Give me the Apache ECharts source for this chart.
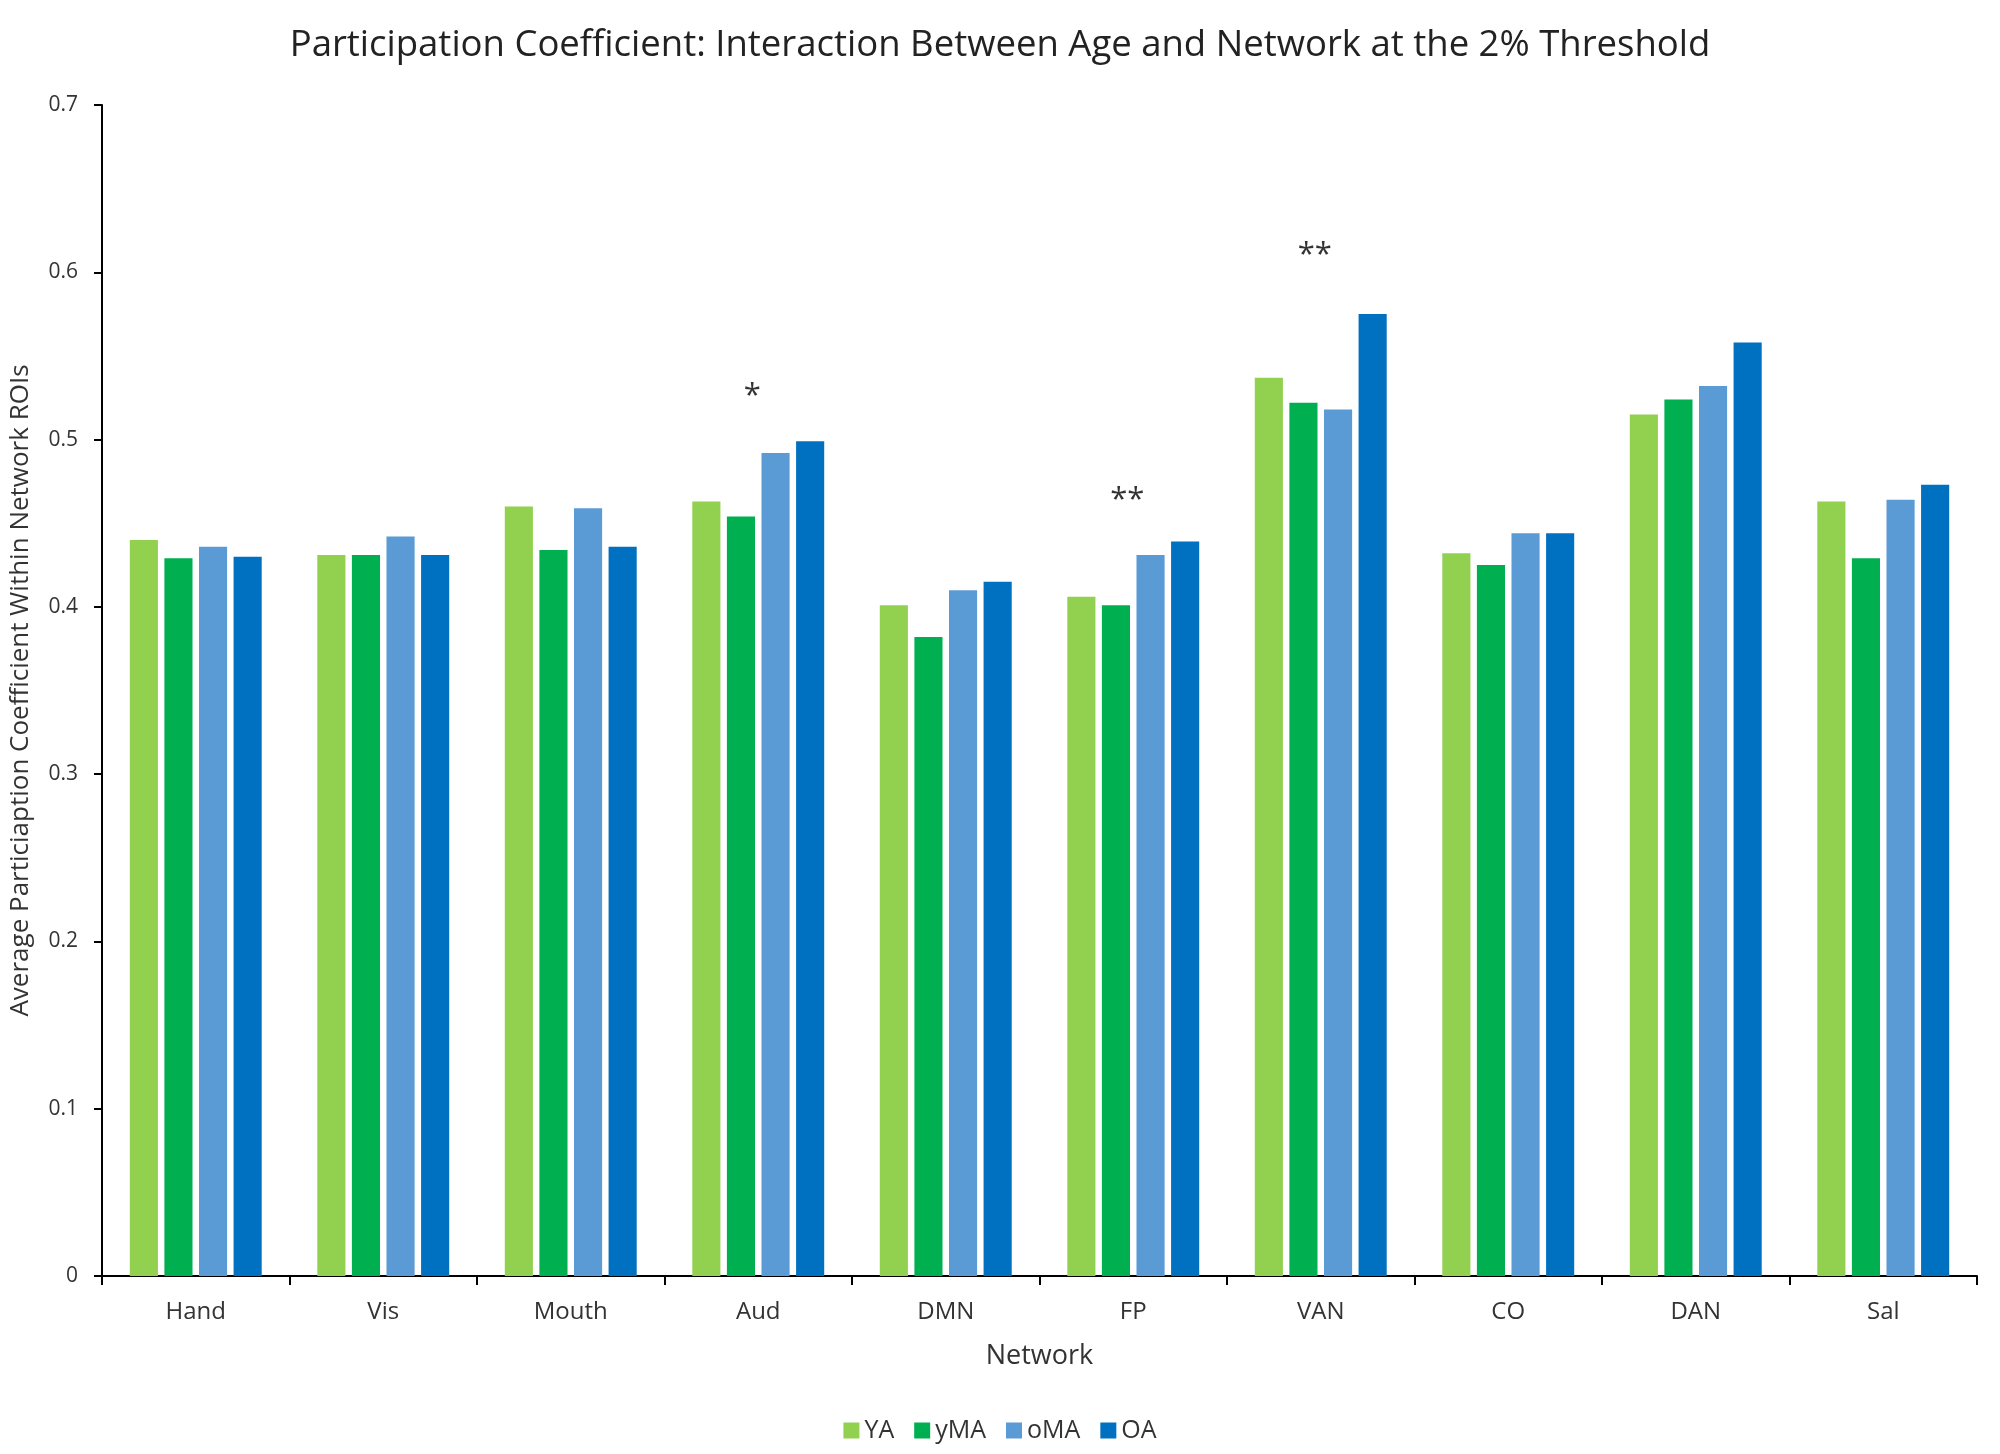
<!DOCTYPE html>
<html>
<head>
<meta charset="utf-8">
<script src="https://cdn.jsdelivr.net/npm/echarts@6/dist/echarts.min.js"></script>
<style>html,body{margin:0;padding:0;background:#fff}#c{width:2000px;height:1454px}</style>
</head>
<body>
<div id="c"></div>
<script>
const categories = ['Hand','Vis','Mouth','Aud','DMN','FP','VAN','CO','DAN','Sal'];
const seriesNames = ['YA','yMA','oMA','OA'];
const YA  = [0.440,0.431,0.460,0.463,0.401,0.406,0.537,0.432,0.515,0.463];
const yMA = [0.429,0.431,0.434,0.454,0.382,0.401,0.522,0.425,0.524,0.429];
const oMA = [0.436,0.442,0.459,0.492,0.410,0.431,0.518,0.444,0.532,0.464];
const OA  = [0.430,0.431,0.436,0.499,0.415,0.439,0.575,0.444,0.558,0.473];
const colors = ['#92D050','#00B050','#5B9BD5','#0070C0'];
const annotCats = ['Aud','FP','VAN'];
const annotText = ['*','**','**'];
const annotY = [0.526,0.464,0.610];
const yTicks = [0,0.1,0.2,0.3,0.4,0.5,0.6,0.7];

const FONT = '"Open Sans", sans-serif';
const chart = echarts.init(document.getElementById('c'));
const values = [YA,yMA,oMA,OA];
const barSeries = seriesNames.map((n,i)=>({
  name:n, type:'bar', data:values[i],
  itemStyle:{color:colors[i]},
  barWidth:'15%', barGap:'23%', barCategoryGap:'30%'
}));
const annotData = annotCats.map((c,i)=>({value:[c,annotY[i]], label:{formatter:annotText[i]}}));
barSeries.push({
  name:'annot', type:'scatter', data:annotData, symbolSize:1, itemStyle:{color:'rgba(0,0,0,0)'},
  label:{show:true, position:'inside', offset:[-6,0], color:'#000', fontSize:31, fontFamily:FONT},
  silent:true, z:5
});
chart.setOption({
  animation:false,
  backgroundColor:'#fff',
  title:{text:'Participation Coefficient: Interaction Between Age and Network at the 2% Threshold',
    left:'center', top:22, textStyle:{fontFamily:FONT, fontSize:36.5, fontWeight:'normal', color:'#222'}},
  legend:{data:seriesNames, bottom:6, left:'center', icon:'rect', itemWidth:16, itemHeight:16, itemGap:20,
    textStyle:{fontFamily:FONT, fontSize:25, color:'#333'}},
  grid:{left:97, right:23, top:105, bottom:178, containLabel:false},
  xAxis:{type:'category', data:categories, name:'Network', nameLocation:'middle', nameGap:67,
    nameTextStyle:{fontFamily:FONT, fontSize:27, color:'#333'},
    axisLine:{lineStyle:{color:'#000', width:2}},
    axisTick:{show:true, length:9, lineStyle:{color:'#000', width:2}},
    axisLabel:{fontFamily:FONT, fontSize:24, color:'#333', margin:24}},
  yAxis:{type:'value', min:0, max:0.7, interval:0.1,
    name:'Average Particiaption Coefficient Within Network ROIs', nameLocation:'middle', nameGap:68,
    nameTextStyle:{fontFamily:FONT, fontSize:26, color:'#333'},
    axisLine:{show:true, lineStyle:{color:'#000', width:2}},
    axisTick:{show:true, length:8, lineStyle:{color:'#000', width:2}},
    splitLine:{show:false},
    axisLabel:{fontFamily:FONT, fontSize:21, color:'#333', margin:24,
      formatter:v=>{const t=yTicks.find(x=>Math.abs(x-v)<1e-9); return t===0?'0':String(t);}}},
  series:barSeries
});
</script>
</body>
</html>
